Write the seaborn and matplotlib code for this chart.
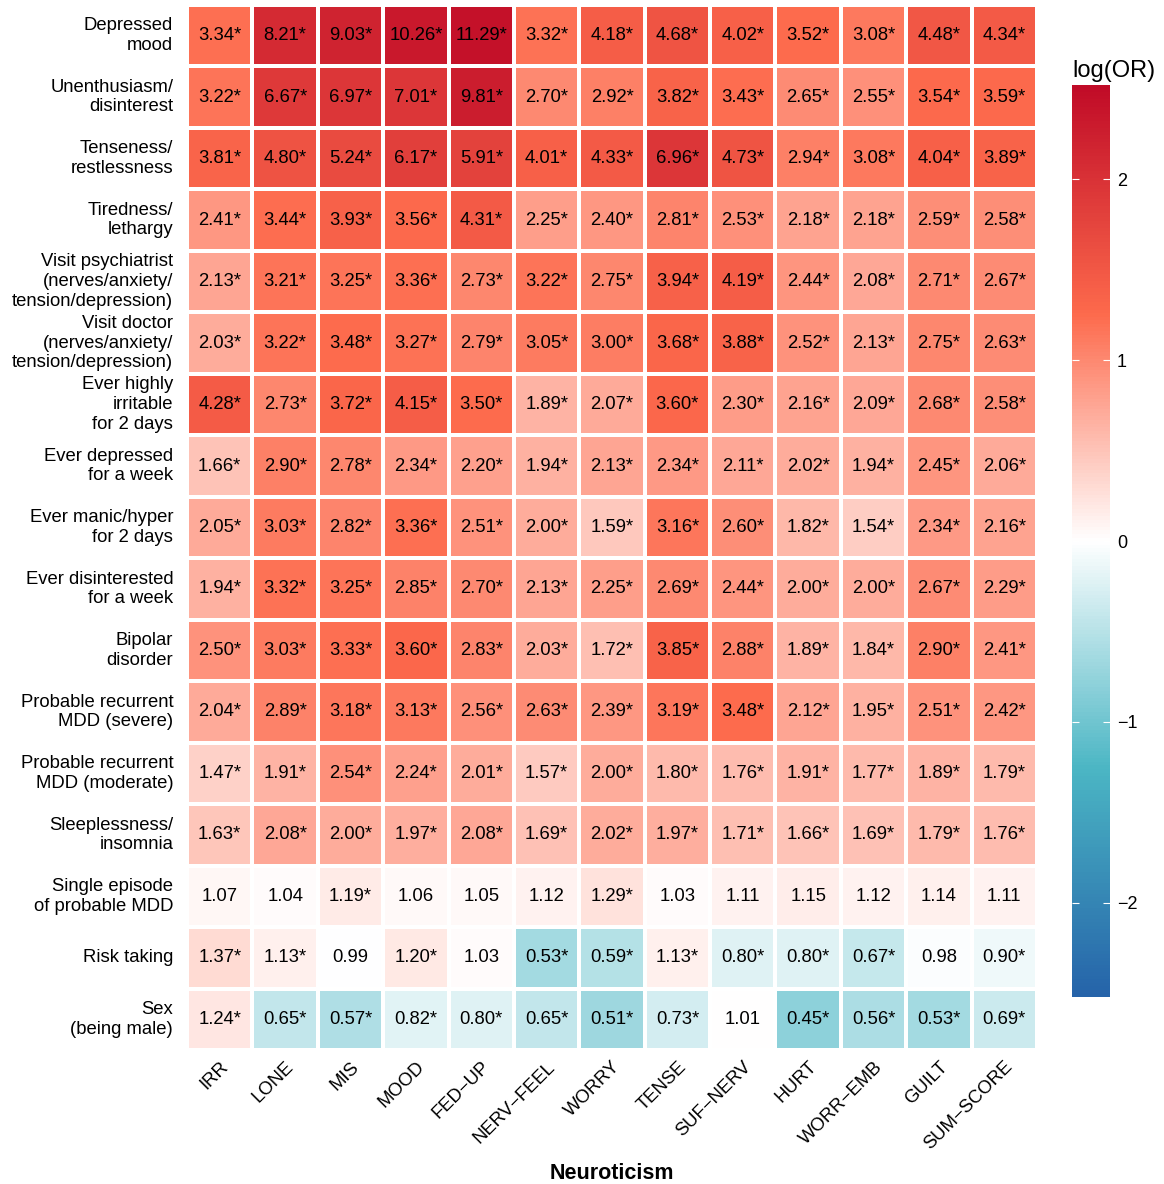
import numpy as np
import pandas as pd
import matplotlib
matplotlib.use("Agg")
import matplotlib.pyplot as plt
import seaborn as sns
from matplotlib.colors import LinearSegmentedColormap

traits = ["IRR", "LONE", "MIS", "MOOD", "FED\u2212UP", "NERV\u2212FEEL", "WORRY",
          "TENSE", "SUF\u2212NERV", "HURT", "WORR\u2212EMB", "GUILT", "SUM\u2212SCORE"]

outcomes = [
    "Depressed\nmood",
    "Unenthusiasm/\ndisinterest",
    "Tenseness/\nrestlessness",
    "Tiredness/\nlethargy",
    "Visit psychiatrist\n(nerves/anxiety/\ntension/depression)",
    "Visit doctor\n(nerves/anxiety/\ntension/depression)",
    "Ever highly\nirritable\nfor 2 days",
    "Ever depressed\nfor a week",
    "Ever manic/hyper\nfor 2 days",
    "Ever disinterested\nfor a week",
    "Bipolar\ndisorder",
    "Probable recurrent\nMDD (severe)",
    "Probable recurrent\nMDD (moderate)",
    "Sleeplessness/\ninsomnia",
    "Single episode\nof probable MDD",
    "Risk taking",
    "Sex\n(being male)",
]

odds_ratios = [
    [3.34, 8.21, 9.03, 10.26, 11.29, 3.32, 4.18, 4.68, 4.02, 3.52, 3.08, 4.48, 4.34],
    [3.22, 6.67, 6.97, 7.01, 9.81, 2.70, 2.92, 3.82, 3.43, 2.65, 2.55, 3.54, 3.59],
    [3.81, 4.80, 5.24, 6.17, 5.91, 4.01, 4.33, 6.96, 4.73, 2.94, 3.08, 4.04, 3.89],
    [2.41, 3.44, 3.93, 3.56, 4.31, 2.25, 2.40, 2.81, 2.53, 2.18, 2.18, 2.59, 2.58],
    [2.13, 3.21, 3.25, 3.36, 2.73, 3.22, 2.75, 3.94, 4.19, 2.44, 2.08, 2.71, 2.67],
    [2.03, 3.22, 3.48, 3.27, 2.79, 3.05, 3.00, 3.68, 3.88, 2.52, 2.13, 2.75, 2.63],
    [4.28, 2.73, 3.72, 4.15, 3.50, 1.89, 2.07, 3.60, 2.30, 2.16, 2.09, 2.68, 2.58],
    [1.66, 2.90, 2.78, 2.34, 2.20, 1.94, 2.13, 2.34, 2.11, 2.02, 1.94, 2.45, 2.06],
    [2.05, 3.03, 2.82, 3.36, 2.51, 2.00, 1.59, 3.16, 2.60, 1.82, 1.54, 2.34, 2.16],
    [1.94, 3.32, 3.25, 2.85, 2.70, 2.13, 2.25, 2.69, 2.44, 2.00, 2.00, 2.67, 2.29],
    [2.50, 3.03, 3.33, 3.60, 2.83, 2.03, 1.72, 3.85, 2.88, 1.89, 1.84, 2.90, 2.41],
    [2.04, 2.89, 3.18, 3.13, 2.56, 2.63, 2.39, 3.19, 3.48, 2.12, 1.95, 2.51, 2.42],
    [1.47, 1.91, 2.54, 2.24, 2.01, 1.57, 2.00, 1.80, 1.76, 1.91, 1.77, 1.89, 1.79],
    [1.63, 2.08, 2.00, 1.97, 2.08, 1.69, 2.02, 1.97, 1.71, 1.66, 1.69, 1.79, 1.76],
    [1.07, 1.04, 1.19, 1.06, 1.05, 1.12, 1.29, 1.03, 1.11, 1.15, 1.12, 1.14, 1.11],
    [1.37, 1.13, 0.99, 1.20, 1.03, 0.53, 0.59, 1.13, 0.80, 0.80, 0.67, 0.98, 0.90],
    [1.24, 0.65, 0.57, 0.82, 0.80, 0.65, 0.51, 0.73, 1.01, 0.45, 0.56, 0.53, 0.69],
]

# 1 = significant (marked with *)
significant = [[1] * 13] * 14 + [
    [0, 0, 1, 0, 0, 0, 1, 0, 0, 0, 0, 0, 0],
    [1, 1, 0, 1, 0, 1, 1, 1, 1, 1, 1, 0, 1],
    [1, 1, 1, 1, 1, 1, 1, 1, 0, 1, 1, 1, 1],
]

or_df = pd.DataFrame(odds_ratios, index=outcomes, columns=traits)
log_or = np.log(or_df)
sig = np.array(significant, dtype=bool)
annot = np.where(sig, or_df.map(lambda v: f"{v:.2f}*"), or_df.map(lambda v: f"{v:.2f}"))

cmap = LinearSegmentedColormap.from_list(
    "or", [(0.0, "#2563A9"), (0.25, "#4BB6C4"), (0.5, "#FFFFFF"),
           (0.75, "#FD6A4C"), (1.0, "#C00B27")])

plt.rcParams["font.family"] = ["Liberation Sans", "DejaVu Sans"]

fig = plt.figure(figsize=(11.64, 11.84), dpi=100)
ax = fig.add_axes([0.1607, 0.1132, 0.7302, 0.8826])
cax = fig.add_axes([0.921, 0.158, 0.0327, 0.770])

sns.heatmap(log_or, ax=ax, cbar_ax=cax, cmap=cmap, vmin=-2.52, vmax=2.52,
            annot=annot, fmt="", annot_kws={"size": 13.3, "color": "black"},
            linewidths=1.5, linecolor="white")

ax.tick_params(axis="y", length=0, pad=10)
ax.tick_params(axis="x", length=0, pad=6)
ax.set_yticklabels(ax.get_yticklabels(), rotation=0, ha="right",
                   fontsize=13.3, linespacing=1.2)
ax.set_xticklabels(ax.get_xticklabels(), rotation=45, ha="right", va="top",
                   rotation_mode="anchor", fontsize=13.3)
ax.set_ylabel("")
ax.set_xlabel("Neuroticism", fontsize=15.5, fontweight="bold")
ax.xaxis.set_label_coords(0.526, 1 - 1163 / 1184, transform=fig.transFigure)

cax.set_yticks([-2, -1, 0, 1, 2])
cax.tick_params(axis="y", left=True, right=True, direction="in", length=5,
                color="white", labelcolor="black", labelsize=13, pad=5)
cax.set_title("log(OR)", fontsize=17, loc="left", pad=6)
for sp in cax.spines.values():
    sp.set_visible(False)

plt.savefig("out.png", dpi=100)
plt.close()
